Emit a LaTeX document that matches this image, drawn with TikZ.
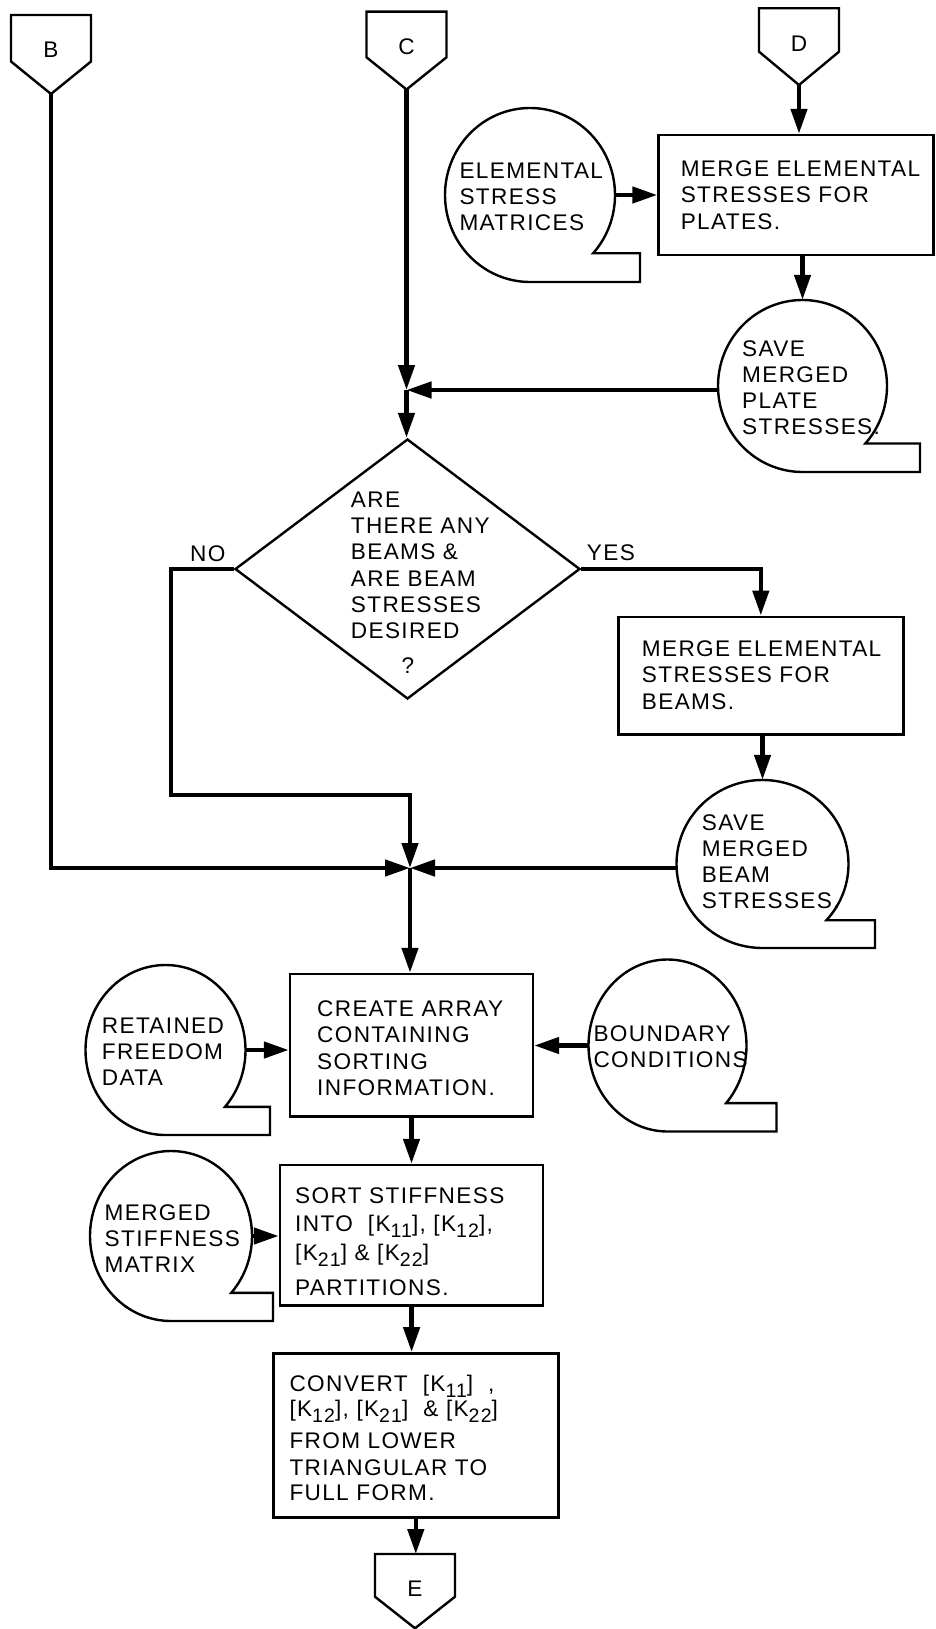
\documentclass[tikz,border=0pt]{standalone}
\usepackage{fontspec}
\setmainfont{Liberation Sans}[LetterSpace=6]
\usetikzlibrary{arrows.meta,shapes.geometric,calc}

% subscripted partition names such as [K11]
\newcommand\ksub[1]{\raisebox{-6pt}{\fontsize{19.5}{19.5}\selectfont #1}}
\newcommand\kmat[1]{{[}K\ksub{#1}{]}}

% off-page connector: name, centre x, top y, side depth, tip depth, letter
\newcommand\offpage[6]{%
  \draw[shapeline] (#2-40,#3) -- (#2+40,#3) -- (#2+40,#3-#4) -- (#2,#3-#5) -- (#2-40,#3-#4) -- cycle;
  \node[txt] (#1) at (#2,#3-35) {#6};
  \coordinate (#1-tip) at (#2,#3-#5);
  \coordinate (#1-top) at (#2,#3);
}

% storage (tape) symbol: name, centre x, centre y, x radius, y radius, tail reach
\newcommand\tape[6]{%
  \node[tapebody, minimum width={2*#4pt}, minimum height={2*#5pt}] (#1) at (#2,#3) {};
  \coordinate (#1-tail) at ($(#1.center)+(-42:#4 and #5)$);
  \draw[shapeline] (#1-tail) arc[start angle=-42, end angle=270, x radius=#4, y radius=#5]
    -- ++(#6,0) |- (#1-tail) -- cycle;
}

\tikzset{
  shapeline/.style={line width=2.4pt},
  conn/.style={line width=4.5pt, -{Triangle[length=25pt,width=16pt]}},
  txt/.style={font=\fontsize{22.6}{26.2}\selectfont, inner sep=0pt},
  blk/.style={txt, text width=330pt, align=left, anchor=base west},
  box/.style={draw, shapeline, rectangle, inner sep=0pt},
  tapebody/.style={ellipse, inner sep=0pt},
}

\begin{document}
\begin{tikzpicture}[x=1pt,y=1pt]
\path[use as bounding box, fill=white] (0,0) rectangle (936,-1629);

% off-page connectors
\offpage{B}{51}{-15}{46.5}{79}{B}
\offpage{C}{406.5}{-11.7}{45.6}{77.8}{C}
\offpage{D}{799}{-8.3}{43.4}{76.7}{D}
\offpage{E}{415}{-1554}{42.7}{74.3}{E}

% process boxes
\node[box, minimum width=275pt, minimum height=120pt] (mp) at (796,-195) {};
\node[box, minimum width=285pt, minimum height=117.6pt] (mb) at (760.8,-675.5) {};
\node[box, minimum width=243pt, minimum height=142.7pt] (ca) at (411.5,-1045.3) {};
\node[box, minimum width=263.3pt, minimum height=140.7pt] (ss) at (411.6,-1235.3) {};
\node[box, minimum width=285pt, minimum height=164pt] (cv) at (415.8,-1435.3) {};

% decision
\node[diamond, draw, shapeline, inner sep=0pt, minimum width=345pt, minimum height=260pt] (dq) at (407.5,-569) {};

% storage symbols
\tape{em}{530}{-195}{85}{87}{110}
\tape{sp}{802.5}{-386}{84.5}{86}{117.5}
\tape{sb}{762.5}{-864}{86}{84}{112.5}
\tape{rf}{165.5}{-1050}{80}{85}{104.5}
\tape{bc}{667.5}{-1045.5}{79}{86}{109}
\tape{ms}{171}{-1236}{81}{85}{102}

% texts
\node[blk] (mp-t) at (680.6,-176.7) {MERGE ELEMENTAL\\STRESSES FOR\\PLATES.};
\node[blk] (em-t) at (459.3,-178.3) {ELEMENTAL\\STRESS\\MATRICES};
\node[blk] (sp-t) at (742,-356) {SAVE\\MERGED\\PLATE\\STRESSES.};
\node[blk] (dq-t) at (350.7,-507.5) {ARE\\THERE ANY\\BEAMS \&\\ARE BEAM\\STRESSES\\DESIRED};
\node[txt, anchor=base] (dq-q) at (408,-673) {?};
\node[txt, anchor=base west] (no) at (190,-561.7) {NO};
\node[txt, anchor=base west] (yes) at (586.7,-560) {YES};
\node[blk] (mb-t) at (641.7,-656.7) {MERGE ELEMENTAL\\STRESSES FOR\\BEAMS.};
\node[blk] (sb-t) at (701.7,-830) {SAVE\\MERGED\\BEAM\\STRESSES.};
\node[blk] (ca-t) at (317,-1016.7) {CREATE ARRAY\\CONTAINING\\SORTING\\INFORMATION.};
\node[blk] (rf-t) at (101.7,-1033.3) {RETAINED\\FREEDOM\\DATA};
\node[blk] (bc-t) at (593.3,-1041.7) {BOUNDARY\\CONDITIONS};
\node[blk] (ms-t) at (104.5,-1220) {MERGED\\STIFFNESS\\MATRIX};
\node[blk] (ss-t) at (295,-1203.3) {SORT STIFFNESS\\[2.2pt]INTO\ \ \kmat{11}, \kmat{12},\\[2.1pt]\kmat{21} \& \kmat{22}\\[8.8pt]PARTITIONS.};
\node[blk] (cv-t) at (289.3,-1391.7) {CONVERT\ \ \kmat{11}\ \ ,\\[-1.2pt]\kmat{12}, \kmat{21}\ \ \& \kmat{22}\\[5.4pt]FROM LOWER\\[0.5pt]TRIANGULAR TO\\[-1.2pt]FULL FORM.};

% junctions
\coordinate (j1) at (406.5,-390);
\coordinate (j2) at (410,-868);
\coordinate (nobend) at (171,-795);

% connectors
\draw[conn] (C-tip) -- (j1);
\draw[conn] (j1 -| sp.west) -- (j1);
\draw[conn] (j1) -- (j1 |- dq.north);
\draw[conn] (D-tip) -- (D-tip |- mp.north);
\draw[conn] (em.east) -- (em.east -| mp.west);
\draw[conn] (sp.north |- mp.south) -- (sp.north);
\draw[conn] (dq.east) -| (mb.north);
\draw[conn] (mb.south -| sb.north) -- (sb.north);
\draw[conn] (dq.west) -| (nobend) -| (j2);
\draw[conn] (B-tip) |- (j2);
\draw[conn] (j2 -| sb.west) -- (j2);
\draw[conn] (j2) -- (j2 |- ca.north);
\draw[conn] (rf.east) -- (rf.east -| ca.west);
\draw[conn] (bc.west) -- (bc.west -| ca.east);
\draw[conn] (ca.south) -- (ca.south |- ss.north);
\draw[conn] (ms.east) -- (ms.east -| ss.west);
\draw[conn] (ss.south) -- (ss.south |- cv.north);
\draw[conn] (cv.south) -- (cv.south |- E-top);
\end{tikzpicture}
\end{document}
